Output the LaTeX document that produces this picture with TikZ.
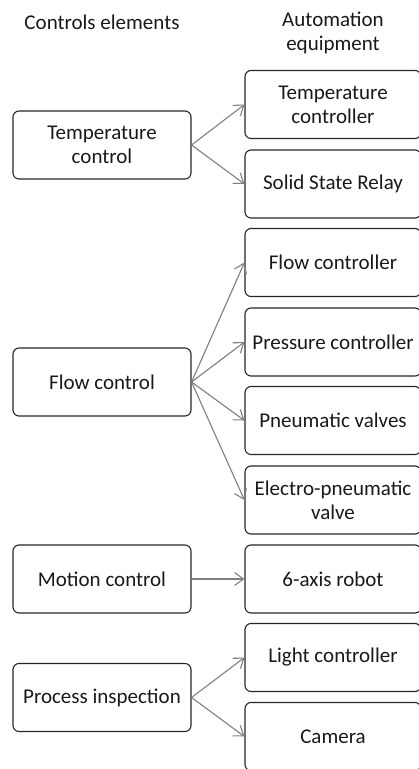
\documentclass[tikz,border=0pt]{standalone}
\usepackage{fontspec}
\setmainfont{Carlito}
\usetikzlibrary{arrows.meta}
\definecolor{linegray}{HTML}{7F7F7F}
\begin{document}
\begin{tikzpicture}[x=1pt,y=-1pt,
  every node/.style={font=\fontsize{21}{24}\selectfont, text=black!90, align=center, inner sep=0pt},
  lbox/.style={draw=black!85, line width=1.1pt, rounded corners=6pt, minimum width=178pt, minimum height=68pt},
  rbox/.style={draw=black!85, line width=1.1pt, rounded corners=6pt, minimum width=176pt, minimum height=68pt},
  conn/.style={draw=linegray, line width=1.1pt, -{Straight Barb[length=9pt,width=13pt,line width=1.1pt]}}]
\useasboundingbox (0,0) rectangle (419,769);
\clip (0,0) rectangle (419,769);
\node (h1) at (102,22) {Controls elements};
\node (h2) at (333,33) {Automation\\equipment};

\node[lbox] (tc) at (102,145) {Temperature\\control};
\node[lbox] (fc) at (102,382) {Flow control};
\node[lbox] (mc) at (102,579) {Motion control};
\node[lbox] (pi) at (102,697.5) {Process inspection};

\node[rbox] (r1) at (333,104.5) {Temperature\\controller};
\node[rbox] (r2) at (333,184) {Solid State Relay};
\node[rbox] (r3) at (333,262.5) {Flow controller};
\node[rbox] (r4) at (333,342) {Pressure controller};
\node[rbox] (r5) at (333,420.5) {Pneumatic valves};
\node[rbox] (r6) at (333,500) {Electro-pneumatic\\valve};
\node[rbox] (r7) at (333,579) {6-axis robot};
\node[rbox] (r8) at (333,657.5) {Light controller};
\node[rbox] (r9) at (333,736.5) {Camera};

\draw[conn] (tc.east) -- (r1.west);
\draw[conn] (tc.east) -- (r2.west);
\draw[conn] (fc.east) -- (r3.west);
\draw[conn] (fc.east) -- (r4.west);
\draw[conn] (fc.east) -- (r5.west);
\draw[conn] (fc.east) -- (r6.west);
\draw[conn] (mc.east) -- (r7.west);
\draw[conn] (pi.east) -- (r8.west);
\draw[conn] (pi.east) -- (r9.west);
\end{tikzpicture}
\end{document}
